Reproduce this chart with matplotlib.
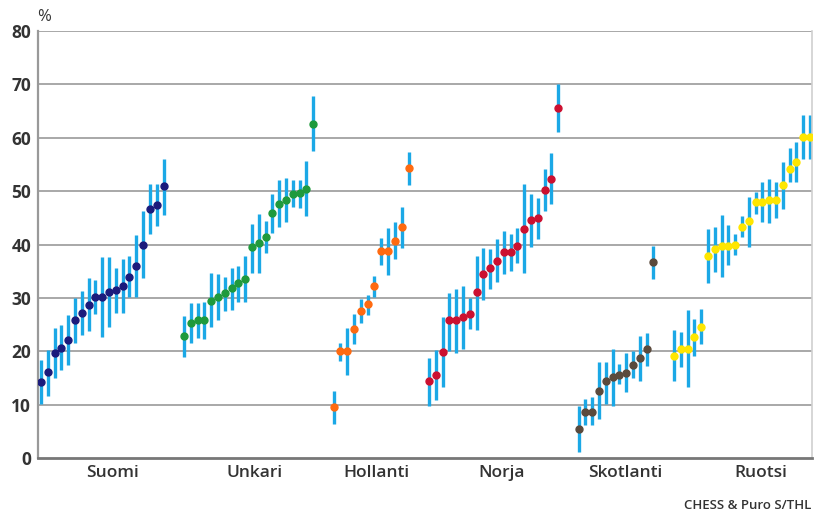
import matplotlib
matplotlib.use("Agg")
import matplotlib.pyplot as plt
import numpy as np

groups = ["Suomi", "Unkari", "Hollanti", "Norja", "Skotlanti", "Ruotsi"]
colors = ["#1b1b7c", "#1f9a3c", "#ff6a10", "#cc1030", "#5b4a3c", "#ffe600"]

suomi_v = [14.2, 16.1, 19.7, 20.6, 22.2, 25.8, 27.1, 28.6, 30.1, 30.1, 31.1, 31.4, 32.2, 34.0, 35.9, 40.0, 46.6, 47.4, 50.9]
suomi_hi = [18.3, 20.3, 24.3, 24.9, 26.8, 30.0, 31.3, 33.8, 33.4, 37.6, 37.6, 35.6, 37.2, 37.9, 41.7, 46.3, 51.4, 51.4, 56.1]
suomi_lo = [10.2, 11.6, 15.0, 16.4, 17.5, 21.6, 23.1, 23.8, 26.9, 22.7, 24.6, 27.2, 27.1, 30.1, 30.1, 33.8, 42.0, 43.4, 45.6]

unkari_v = [22.9, 25.3, 25.9, 25.9, 29.5, 30.1, 30.9, 31.9, 32.8, 33.6, 39.5, 40.3, 41.5, 45.9, 47.6, 48.4, 49.5, 49.6, 50.4, 62.6]
unkari_hi = [26.7, 29.0, 29.0, 29.2, 34.6, 34.4, 33.9, 35.6, 36.0, 37.9, 43.9, 45.8, 44.4, 49.5, 52.1, 52.5, 52.1, 52.1, 55.6, 67.8]
unkari_lo = [19.0, 21.5, 22.5, 22.3, 24.5, 25.8, 27.6, 27.8, 29.2, 29.2, 34.6, 34.6, 38.4, 42.1, 43.3, 44.2, 47.0, 46.9, 45.3, 57.5]

hollanti_v = [9.6, 20.1, 20.1, 24.1, 27.6, 28.8, 32.2, 38.8, 38.8, 40.7, 43.3, 54.3]
hollanti_hi = [12.6, 21.6, 24.3, 26.9, 29.7, 30.5, 34.1, 41.3, 43.1, 44.3, 47.1, 57.4]
hollanti_lo = [6.3, 18.2, 15.5, 21.3, 25.3, 26.8, 30.1, 36.1, 34.3, 37.2, 39.4, 51.1]

norja_v = [14.4, 15.6, 19.9, 25.8, 25.8, 26.4, 27.0, 31.1, 34.5, 35.6, 37.0, 38.6, 38.6, 39.8, 42.9, 44.5, 45.0, 50.3, 52.3, 65.6]
norja_hi = [18.7, 20.3, 26.5, 30.9, 31.7, 32.3, 30.0, 37.9, 39.4, 39.2, 41.1, 42.6, 42.0, 43.1, 51.3, 49.4, 48.8, 54.2, 57.1, 70.0]
norja_lo = [9.8, 10.9, 13.3, 20.0, 19.6, 20.4, 24.2, 24.0, 29.6, 31.7, 32.9, 34.5, 35.1, 36.5, 34.6, 39.5, 41.0, 46.3, 47.5, 61.0]

skotlanti_v = [5.4, 8.6, 8.7, 12.6, 14.4, 15.1, 15.6, 15.9, 17.5, 18.7, 20.4, 36.7]
skotlanti_hi = [9.8, 11.1, 11.4, 17.9, 17.9, 20.4, 17.6, 19.6, 20.0, 22.8, 23.4, 39.8]
skotlanti_lo = [1.1, 6.1, 6.1, 7.3, 10.1, 9.8, 13.9, 12.3, 15.0, 14.4, 17.3, 33.6]

ruotsi_v = [19.2, 20.4, 20.4, 22.6, 24.6, 37.8, 39.1, 39.7, 39.8, 40.0, 43.3, 44.4, 47.9, 47.9, 48.3, 48.3, 51.1, 54.2, 55.4, 60.1, 60.1]
ruotsi_hi = [24.0, 23.6, 27.8, 26.0, 27.9, 42.9, 43.3, 45.6, 43.6, 42.0, 45.3, 48.9, 49.8, 51.7, 52.3, 51.7, 55.4, 58.0, 59.2, 64.2, 64.2]
ruotsi_lo = [14.5, 17.0, 13.3, 19.2, 21.3, 32.8, 34.8, 33.9, 36.1, 38.1, 41.4, 39.6, 45.8, 44.2, 44.0, 45.0, 46.7, 51.7, 51.7, 56.1, 56.1]

values = [suomi_v, unkari_v, hollanti_v, norja_v, skotlanti_v, ruotsi_v]
highs = [suomi_hi, unkari_hi, hollanti_hi, norja_hi, skotlanti_hi, ruotsi_hi]
lows = [suomi_lo, unkari_lo, hollanti_lo, norja_lo, skotlanti_lo, ruotsi_lo]
label_pos = [10.5, 31.4, 49.3, 67.7, 85.8, 105.7]
yticks = [0, 10, 20, 30, 40, 50, 60, 70, 80]

fig = plt.figure(figsize=(8.14, 5.17), dpi=100)
ax = fig.add_axes([0.0467, 0.1141, 0.9505, 0.8259])

grid_c = "#a8a8a8"
for yv in yticks[1:]:
    ax.axhline(yv, color=grid_c, lw=1.4, zorder=1)

start = 0
for g, (v, hi, lo, c) in enumerate(zip(values, highs, lows, colors)):
    x = np.arange(start, start + len(v))
    ax.vlines(x, lo, hi, color="#1ba8e6", lw=2.4, zorder=2)
    ax.plot(x, v, "o", color=c, ms=5.0, mec=c, zorder=3)
    start += len(v) + 2

ax.set_xlim(-0.44, 113.25)
ax.set_ylim(0, 80)
ax.set_yticks(yticks)
ax.set_yticklabels([str(t) for t in yticks], fontsize=12.5, color="#333333",
                   fontfamily="Open Sans", fontweight="bold")
ax.set_xticks(label_pos)
ax.set_xticklabels(groups, fontsize=12.5, color="#333333",
                   fontfamily="Open Sans", fontweight="semibold")
ax.tick_params(axis="both", length=0, pad=5)
ax.tick_params(axis="y", pad=5)

ax.spines["top"].set_visible(False)
ax.spines["left"].set_color("#999999")
ax.spines["left"].set_linewidth(1.6)
ax.spines["right"].set_color("#d0d0d0")
ax.spines["right"].set_linewidth(1.2)
ax.spines["bottom"].set_color("#777777")
ax.spines["bottom"].set_linewidth(2.0)

fig.text(0.045, 0.968, "%", fontsize=12, color="#333333", fontfamily="Open Sans",
         ha="left", va="center")
fig.text(0.997, 0.022, "CHESS & Puro S/THL", fontsize=9.5, color="#333333",
         fontfamily="Open Sans", fontweight="semibold", ha="right", va="center")

fig.savefig("out.png", dpi=100)
